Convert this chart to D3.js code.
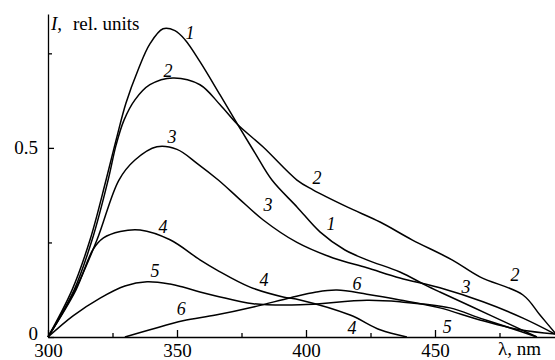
<!DOCTYPE html>
<html>
<head>
<meta charset="utf-8">
<script src="https://cdn.jsdelivr.net/npm/d3@7"></script>
<style>
  body { margin: 0; background: #fff; }
  svg { display: block; }
  svg text { font-family: "Liberation Serif", "Times New Roman", "DejaVu Serif", serif !important; fill: #000; }
  .axis path, .axis line { stroke: #000; stroke-width: 1.3; }
  .axis text { font-size: 19px; }
  .curve { fill: none; stroke: #000; stroke-width: 1.5; }
  .lbl { font-size: 18px; font-style: italic; }
</style>
</head>
<body>
<div id="chart"></div>
<script>
// spectra, [wavelength nm, intensity rel. units]
const curve1 = [[300,0],[309.3,0.124],[316.3,0.257],[322.5,0.415],[326.4,0.521],[330.2,0.618],[334.9,0.706],
  [339.5,0.775],[344.6,0.815],[349.2,0.81],[353.1,0.786],[358.9,0.728],[366.7,0.64],[373.6,0.561],[380.2,0.487],
  [386.8,0.415],[396.5,0.344],[405.4,0.278],[415.1,0.23],[423.6,0.204],[436.4,0.172],[446.1,0.138],
  [451.9,0.119],[471.3,0.058],[489.5,0]];
const curve2 = [[300,0],[310.1,0.124],[317.1,0.257],[323.3,0.415],[326.4,0.508],[329.5,0.574],[333.7,0.627],
  [339.5,0.667],[348.4,0.685],[358.9,0.667],[366.7,0.614],[373.6,0.561],[383.3,0.503],[396.5,0.415],[402.7,0.389],
  [415.9,0.344],[428.7,0.304],[441.1,0.257],[456.6,0.204],[467.4,0.159],[484.1,0.111],[490.7,0.058],
  [496.5,0.011]];
const curve3 = [[300,0],[310.5,0.124],[319,0.257],[327.5,0.415],[333.7,0.468],[342.2,0.503],[350,0.496],
  [358,0.458],[366,0.415],[374,0.366],[383.3,0.31],[396.5,0.25],[410.5,0.209],[423.6,0.183],
  [436.4,0.156],[451.9,0.13],[468.6,0.093],[484.1,0.05],[496.5,0.008]];
const curve4 = [[300,0],[310.8,0.124],[317.5,0.232],[321.5,0.262],[328,0.279],[335.7,0.283],[347.3,0.257],
  [358.9,0.204],[365.5,0.177],[378.3,0.132],[391.1,0.106],[397.7,0.098],[417.1,0.058],[428.7,0.019],[439.1,0]];
const curve5 = [[300,0],[309.7,0.056],[320.2,0.103],[329.8,0.135],[338.4,0.146],[347.3,0.14],[352.3,0.132],
  [358.9,0.119],[365.5,0.108],[379.5,0.088],[397.7,0.085],[423.6,0.097],[436.4,0.093],[455.8,0.077],
  [467.4,0.05],[479.1,0.024],[489.5,0]];
const curve6 = [[329.8,0],[339.5,0.019],[352.3,0.043],[365,0.058],[380,0.08],[394,0.104],[404,0.119],
  [412,0.124],[423.6,0.113],[436.4,0.098],[451.9,0.077],[467.4,0.045],[482.9,0.019],[496.5,0.008]];

// curve numbers: [text, wavelength, intensity]
const curveLabels = [["1",355,0.804],["1",409.7,0.299],
  ["2",346.5,0.703],["2",404.3,0.42],["2",481,0.164],
  ["3",348.1,0.529],["3",385.3,0.349],["3",462,0.132],
  ["4",344.6,0.291],["4",383.7,0.151],["4",417.8,0.024],
  ["5",341.5,0.175],["5",454.7,0.026],
  ["6",351.6,0.074],["6",419.8,0.14]];

const xTicks = [300, 350, 400, 450];
const xMinor = [325, 375, 425, 475];
const yTicks = [0, 0.5];
const yMinor = [0.25, 0.75];

const width = 555, height = 360;

const x = d3.scaleLinear().domain([300, 500]).range([48, 564]);
const y = d3.scaleLinear().domain([0, 0.854]).range([337, 14]);

const svg = d3.select('#chart').append('svg')
  .attr('width', width)
  .attr('height', height);

// x axis
svg.append('g')
  .attr('class', 'axis')
  .attr('transform', 'translate(0,' + y(0) + ')')
  .call(d3.axisBottom(x).tickValues(xTicks).tickSize(-7).tickSizeOuter(0).tickPadding(7).tickFormat(d3.format('d')));
svg.append('g')
  .attr('class', 'axis')
  .attr('transform', 'translate(0,' + y(0) + ')')
  .call(d3.axisBottom(x).tickValues(xMinor).tickSize(-4).tickFormat(''))
  .select('.domain').remove();

// y axis
const yg = svg.append('g')
  .attr('class', 'axis')
  .attr('transform', 'translate(' + x(300) + ',0)')
  .call(d3.axisLeft(y).tickValues(yTicks).tickSize(-6).tickSizeOuter(0).tickPadding(10)
    .tickFormat(d => d === 0 ? '0' : d3.format('.1f')(d)));
yg.selectAll('.tick').filter(d => d === 0).select('text').attr('y', -4);
svg.append('g')
  .attr('class', 'axis')
  .attr('transform', 'translate(' + x(300) + ',0)')
  .call(d3.axisLeft(y).tickValues(yMinor).tickSize(-4).tickFormat(''))
  .select('.domain').remove();

// axis titles
const yt = svg.append('text')
  .attr('x', x(300) + 3)
  .attr('y', 30)
  .style('font-size', '19px');
yt.append('tspan').style('font-style', 'italic').text('I');
yt.append('tspan').text(',');
yt.append('tspan').attr('x', 73).text('rel. units');

svg.append('text')
  .attr('x', 498)
  .attr('y', 355)
  .style('font-size', '19px')
  .text('λ, nm');

// curves
const line = d3.line()
  .x(d => x(d[0]))
  .y(d => y(d[1]))
  .curve(d3.curveCatmullRom.alpha(0.5));

[curve1, curve2, curve3, curve4, curve5, curve6].forEach(c => {
  svg.append('path')
    .datum(c)
    .attr('class', 'curve')
    .attr('d', line);
});

svg.selectAll('.lbl')
  .data(curveLabels)
  .enter().append('text')
  .attr('class', 'lbl')
  .attr('x', d => x(d[1]))
  .attr('y', d => y(d[2]))
  .attr('text-anchor', 'middle')
  .attr('dy', '0.35em')
  .text(d => d[0]);
</script>
</body>
</html>
